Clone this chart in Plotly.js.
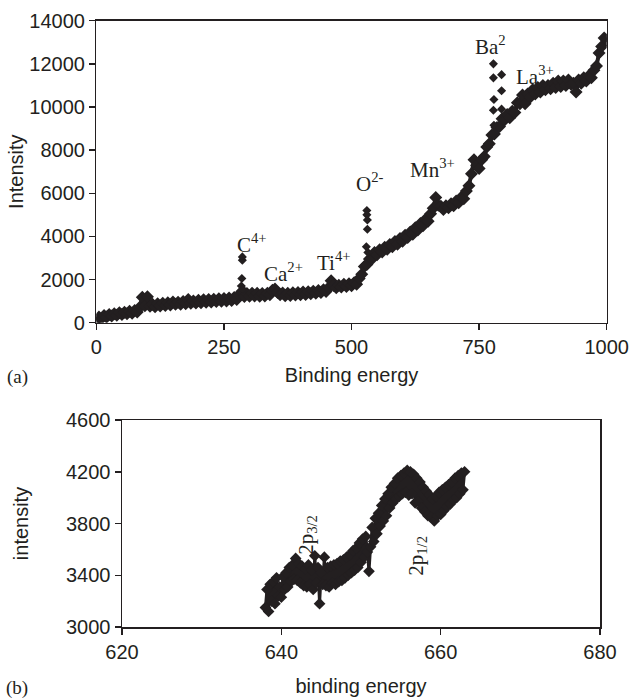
<!DOCTYPE html>
<html>
<head>
<meta charset="utf-8">
<script src="https://cdn.plot.ly/plotly-3.0.1.min.js"></script>
<style>html,body{margin:0;padding:0;background:#fff;}#chart{width:634px;height:700px;}</style>
</head>
<body>
<div id="chart"></div>
<script>
// ---- Panel (a): survey spectrum ----
const surveyEnergy = [0,5,10,15,20,25,30,35,40,45,50,55,60,65,70,75,80,85,90,95,100,105,110,115,120,125,130,135,140,145,150,155,160,165,170,175,180,185,190,195,200,205,210,215,220,225,230,235,240,245,250,255,260,265,270,275,280,285,290,295,300,305,310,315,320,325,330,335,340,345,350,355,360,365,370,375,380,385,390,395,400,405,410,415,420,425,430,435,440,445,450,455,460,465,470,475,480,485,490,495,500,505,510,515,520,525,530,535,540,545,550,555,560,565,570,575,580,585,590,595,600,605,610,615,620,625,630,635,640,645,650,655,660,665,670,675,680,685,690,695,700,705,710,715,720,725,730,735,740,745,750,755,760,765,770,775,780,785,790,795,800,805,810,815,820,825,830,835,840,845,850,855,860,865,870,875,880,885,890,895,900,905,910,915,920,925,930,935,940,945,950,955,960,965,970,975,980,985,990,995,1000];
const surveyIntensity = [120,260,200,330,260,380,310,420,350,460,380,490,420,530,440,560,500,720,1180,780,1200,760,850,740,880,770,900,800,920,820,960,850,950,860,980,880,1080,900,1010,910,1040,930,1060,950,1080,960,1090,980,1110,990,1120,1010,1140,1030,1170,1080,1300,1450,1220,1350,1230,1370,1240,1360,1230,1350,1240,1370,1300,1500,1560,1400,1300,1380,1250,1370,1260,1390,1280,1400,1290,1420,1310,1440,1340,1460,1370,1490,1400,1530,1450,1620,1950,1720,1620,1740,1650,1780,1680,1800,1710,1850,1780,2050,2250,2600,2700,2950,2950,3250,3150,3380,3280,3500,3400,3620,3520,3760,3640,3900,3780,4050,3950,4200,4100,4400,4300,4600,4500,4800,4700,5050,5300,5800,5450,5400,5250,5420,5330,5520,5420,5640,5560,5820,5750,6100,6350,6900,7550,7300,7150,7550,7700,8150,8300,8700,8750,9050,9100,9450,9400,9650,9500,9800,9750,10200,10150,10550,10150,10600,10450,10800,10600,10900,10700,11000,10800,11000,10850,11100,10900,11200,10950,11200,11000,11250,11050,11100,10700,11250,11100,11350,11200,11450,11350,11700,11900,12500,12800,13200,13100];
// isolated peak points (C, O, Ba lines)
const peakEnergy = [284,285,286,286,287,529,530,530,531,531,532,778,778,779,778,779,794,794,794];
const peakIntensity = [1700,2050,2900,3050,1550,3520,5200,5000,4760,4330,3260,12000,11350,10350,9850,9150,11500,10750,9900];

const surveyLabels = ['C<sup>4+</sup>','Ca<sup>2+</sup>','Ti<sup>4+</sup>','O<sup>2-</sup>','Mn<sup>3+</sup>','Ba<sup>2</sup>','La<sup>3+</sup>'];
const surveyLabelX = [305,366,466,536,658,773,860];
const surveyLabelY = [3650,2350,2850,6520,7170,12830,11480];
const surveyTicksX = [0,250,500,750,1000];
const surveyTicksY = [0,2000,4000,6000,8000,10000,12000,14000];

// ---- Panel (b): Mn 2p region ----
const mnEnergy = [638.0,638.2,638.4,638.6,638.8,639.0,639.2,639.4,639.6,639.8,640.0,640.2,640.4,640.6,640.8,641.0,641.2,641.4,641.6,641.8,642.0,642.2,642.4,642.6,642.8,643.0,643.2,643.4,643.6,643.8,644.0,644.2,644.4,644.6,644.8,645.0,645.2,645.4,645.6,645.8,646.0,646.2,646.4,646.6,646.8,647.0,647.2,647.4,647.6,647.8,648.0,648.2,648.4,648.6,648.8,649.0,649.2,649.4,649.6,649.8,650.0,650.2,650.4,650.6,650.8,651.0,651.2,651.4,651.6,651.8,652.0,652.2,652.4,652.6,652.8,653.0,653.2,653.4,653.6,653.8,654.0,654.2,654.4,654.6,654.8,655.0,655.2,655.4,655.6,655.8,656.0,656.2,656.4,656.6,656.8,657.0,657.2,657.4,657.6,657.8,658.0,658.2,658.4,658.6,658.8,659.0,659.2,659.4,659.6,659.8,660.0,660.2,660.4,660.6,660.8,661.0,661.2,661.4,661.6,661.8,662.0,662.2,662.4,662.6,662.8,663.0];
const mnIntensity = [3150,3290,3120,3330,3200,3350,3180,3380,3240,3310,3230,3390,3290,3420,3310,3460,3350,3480,3370,3530,3360,3490,3340,3470,3320,3450,3310,3480,3330,3440,3290,3550,3340,3460,3180,3420,3330,3540,3320,3460,3310,3470,3340,3480,3330,3490,3350,3510,3360,3520,3380,3540,3400,3560,3420,3590,3440,3610,3460,3650,3500,3680,3540,3700,3580,3430,3620,3770,3660,3840,3720,3880,3780,3940,3820,3990,3860,4030,3920,4080,3960,4110,3990,4150,4010,4170,4030,4190,4040,4210,4020,4200,4030,4180,3960,4150,3970,4120,3920,4080,3890,4050,3860,4020,3850,3990,3820,4010,3860,4040,3870,4060,3900,4080,3930,4100,3950,4120,3980,4150,4000,4170,4030,4190,4060,4200];

const mnLabels = ['2p<sub>3/2</sub>','2p<sub>1/2</sub>'];
const mnLabelX = [643.2,657.0];
const mnLabelY = [3711,3549];
const mnTicksX = [620,640,660,680];
const mnTicksY = [3000,3400,3800,4200,4600];

const ink = '#231f20';
const sans = 'Liberation Sans, Arial, sans-serif';
const serif = 'Liberation Serif, Times New Roman, serif';
const W = 634, H = 700;

const surveyMarker = {symbol:'diamond', size:10, color:ink, line:{width:0}};
const mnMarker = {symbol:'diamond', size:9, color:ink, line:{width:0}};
const peakMarker = {symbol:'diamond', size:7, color:ink, line:{width:0}};

const traces = [
  {x: surveyEnergy, y: surveyIntensity, type:'scatter', mode:'lines+markers', line:{color:ink, width:4}, marker: surveyMarker, xaxis:'x', yaxis:'y', hoverinfo:'x+y'},
  {x: peakEnergy, y: peakIntensity, type:'scatter', mode:'markers', marker: peakMarker, xaxis:'x', yaxis:'y', hoverinfo:'x+y'},
  {x: mnEnergy, y: mnIntensity, type:'scatter', mode:'lines+markers', line:{color:ink, width:3}, marker: mnMarker, xaxis:'x2', yaxis:'y2', hoverinfo:'x+y'}
];

function axisBase(){
  return {showgrid:false, zeroline:false, showline:true, mirror:true, linecolor:ink, linewidth:1.5,
          ticks:'outside', ticklen:6, tickwidth:1.5, tickcolor:ink, tickformat:'d', tickmode:'array',
          tickfont:{family:sans, size:20, color:ink}, fixedrange:true};
}

const annotations = [];
surveyLabels.forEach((t,i)=>annotations.push({text:t, x:surveyLabelX[i], y:surveyLabelY[i], xref:'x', yref:'y', showarrow:false, font:{family:serif, size:21, color:ink}}));
mnLabels.forEach((t,i)=>annotations.push({text:t, x:mnLabelX[i], y:mnLabelY[i], xref:'x2', yref:'y2', showarrow:false, textangle:-90, font:{family:serif, size:21, color:ink}}));
annotations.push({text:'(a)', x:17/W, y:1-377/H, xref:'paper', yref:'paper', xanchor:'center', yanchor:'middle', showarrow:false, font:{family:serif, size:19, color:ink}});
annotations.push({text:'(b)', x:17/W, y:1-688/H, xref:'paper', yref:'paper', xanchor:'center', yanchor:'middle', showarrow:false, font:{family:serif, size:19, color:ink}});

const layout = {
  width:W, height:H, margin:{l:0,r:0,t:0,b:0}, paper_bgcolor:'#fff', plot_bgcolor:'#fff', showlegend:false,
  xaxis: Object.assign(axisBase(), {domain:[96.4/W, 606.7/W], range:[0,1000], tickvals:surveyTicksX, anchor:'y',
          title:{text:'Binding energy', font:{family:sans, size:20, color:ink}, standoff:11}}),
  yaxis: Object.assign(axisBase(), {domain:[1-322.7/H, 1-20.7/H], range:[0,14000], tickvals:surveyTicksY, anchor:'x',
          title:{text:'Intensity', font:{family:sans, size:20, color:ink}, standoff:0}}),
  xaxis2: Object.assign(axisBase(), {domain:[122/W, 600/W], range:[620,680], tickvals:mnTicksX, anchor:'y2',
          title:{text:'binding energy', font:{family:sans, size:20, color:ink}, standoff:17}}),
  yaxis2: Object.assign(axisBase(), {domain:[1-627/H, 1-420/H], range:[3000,4600], tickvals:mnTicksY, anchor:'x2',
          title:{text:'intensity', font:{family:sans, size:20, color:ink}, standoff:32}}),
  annotations: annotations
};

Plotly.newPlot('chart', traces, layout, {displayModeBar:false, staticPlot:true});
</script>
</body>
</html>
